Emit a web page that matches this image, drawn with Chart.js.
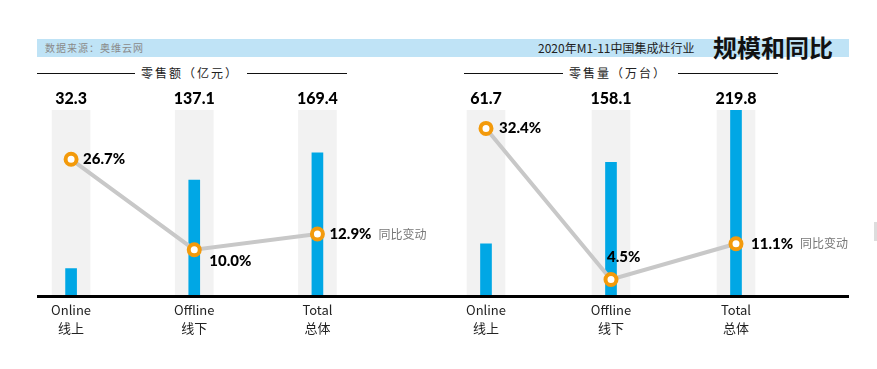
<!DOCTYPE html>
<html lang="zh">
<head>
<meta charset="UTF-8">
<title>2020年M1-11中国集成灶行业规模和同比</title>
<script src="https://cdn.jsdelivr.net/npm/chart.js"></script>
<style>
    body { margin: 0; background: #fff; font-family: "Noto Sans CJK SC", sans-serif; }
    #wrap { position: relative; width: 877px; height: 369px; overflow: hidden; }
    canvas { position: absolute; left: 0; top: 0; }
    .band { position: absolute; left: 37px; top: 39px; width: 812px; height: 18px; background: #bfe3f6; }
    .src { position: absolute; left: 45px; top: 40px; font-size: 10px; color: #8a8a8a; letter-spacing: 1px; line-height: 16px; }
    .title1 { position: absolute; left: 538px; top: 40px; font-size: 12px; color: #222; line-height: 16px; }
    .title2 { position: absolute; left: 713px; top: 32px; font-size: 24px; font-weight: bold; color: #111; line-height: 30px; }
    .sub { position: absolute; top: 64px; font-size: 12px; color: #222; letter-spacing: 2px; line-height: 18px; }
    .rule { position: absolute; height: 1px; background: #111; top: 73px; }
    .base { position: absolute; left: 37px; top: 295px; width: 812px; height: 3px; background: #000; }
    .edge { position: absolute; left: 874px; top: 222px; width: 3px; height: 19px; background: #ddd; }
</style>
</head>
<body>
<div id="wrap">
    <div class="band"></div>
    <div class="src">数据来源：奥维云网</div>
    <div class="title1">2020年M1-11中国集成灶行业</div>
    <div class="title2">规模和同比</div>

    <div class="rule" style="left:37px;width:98px"></div>
    <div class="sub" style="left:141px">零售额（亿元）</div>
    <div class="rule" style="left:247px;width:100px"></div>

    <div class="rule" style="left:464px;width:99px"></div>
    <div class="sub" style="left:569px">零售量（万台）</div>
    <div class="rule" style="left:678px;width:100px"></div>

    <canvas id="salesChart" width="877" height="369"></canvas>
    <canvas id="volumeChart" width="877" height="369"></canvas>
    <div class="base"></div>
    <div class="edge"></div>
</div>

<script>
// categories
const catEn = ['Online', 'Offline', 'Total'];
const catCn = ['线上', '线下', '总体'];

// 零售额（亿元）
const salesValue = [32.3, 137.1, 169.4];
const salesYoY = [26.7, 10.0, 12.9];

// 零售量（万台）
const volumeValue = [61.7, 158.1, 219.8];
const volumeYoY = [32.4, 4.5, 11.1];

// background column height (axis max)
const colMax = 220;

// label offsets for the percentage labels (dx, dy from the point)
const salesPctPos = [[12, 0], [15, 11], [12, 0]];
const volumePctPos = [[13, 0], [-4, -22], [15, 0]];

const numFont = '900 15px Lato';

const labelPlugin = {
    id: 'labels',
    afterDatasetsDraw(chart, args, opts) {
        const ctx = chart.ctx;
        const x = chart.scales.x;
        ctx.save();
        // totals above columns
        ctx.fillStyle = '#000';
        ctx.font = '900 16px Lato';
        ctx.textAlign = 'center';
        ctx.textBaseline = 'middle';
        opts.values.forEach((v, i) => {
            ctx.fillText(v.toFixed(1), x.getPixelForValue(i), 99);
        });
        // category labels
        ctx.font = '13px "Noto Sans CJK SC"';
        ctx.fillStyle = '#222';
        catEn.forEach((c, i) => {
            const px = x.getPixelForValue(i);
            ctx.fillText(c, px, 310);
            ctx.fillText(catCn[i], px, 328);
        });
        // percentage labels
        const meta = chart.getDatasetMeta(0);
        ctx.textAlign = 'left';
        meta.data.forEach((pt, i) => {
            const [dx, dy] = opts.pos[i];
            ctx.font = numFont;
            ctx.fillStyle = '#000';
            const txt = opts.pct[i].toFixed(1) + '%';
            ctx.fillText(txt, pt.x + dx, pt.y + dy);
            if (i === opts.pct.length - 1) {
                const w = ctx.measureText(txt).width;
                ctx.font = '12px "Noto Sans CJK SC"';
                ctx.fillStyle = '#777';
                ctx.fillText('同比变动', pt.x + dx + w + 7, pt.y + dy);
            }
        });
        ctx.restore();
    }
};

function makeChart(id, values, pct, pos, padLeft, padRight) {
    return new Chart(document.getElementById(id), {
        type: 'bar',
        data: {
            labels: catEn,
            datasets: [
                {
                    type: 'line',
                    data: pct,
                    yAxisID: 'y2',
                    borderColor: '#c8c8c8',
                    borderWidth: 4,
                    pointRadius: 5.5,
                    pointBorderWidth: 4,
                    pointBackgroundColor: '#fff',
                    pointBorderColor: '#f39a0b',
                    tension: 0,
                    order: 0
                },
                {
                    data: values,
                    backgroundColor: '#00a7e5',
                    barThickness: 11,
                    grouped: false,
                    order: 1
                },
                {
                    data: values.map(() => colMax),
                    backgroundColor: '#f2f2f2',
                    barThickness: 38,
                    grouped: false,
                    order: 2
                }
            ]
        },
        options: {
            responsive: false,
            animation: false,
            events: [],
            layout: { padding: { top: 110, bottom: 73, left: padLeft, right: padRight } },
            plugins: {
                legend: { display: false },
                tooltip: { enabled: false },
                labels: { values: values, pct: pct, pos: pos }
            },
            scales: {
                x: { display: false },
                y: { display: false, min: 0, max: colMax },
                y2: { display: false, min: 1.45, max: 35.8 }
            }
        },
        plugins: [labelPlugin]
    });
}

makeChart('salesChart', salesValue, salesYoY, salesPctPos, 8, 498);
makeChart('volumeChart', volumeValue, volumeYoY, volumePctPos, 423.5, 78.5);
</script>
</body>
</html>
